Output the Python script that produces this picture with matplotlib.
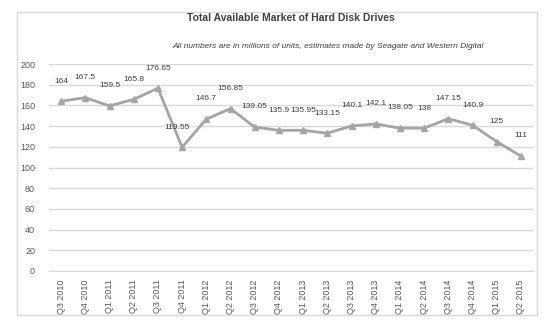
import matplotlib.pyplot as plt
from matplotlib.patches import Rectangle

plt.rcParams['font.family'] = ['Liberation Sans', 'DejaVu Sans']

# quarters and total available market (millions of units)
quarters = ['Q3 2010', 'Q4 2010', 'Q1 2011', 'Q2 2011', 'Q3 2011', 'Q4 2011',
            'Q1 2012', 'Q2 2012', 'Q3 2012', 'Q4 2012', 'Q1 2013', 'Q2 2013',
            'Q3 2013', 'Q4 2013', 'Q1 2014', 'Q2 2014', 'Q3 2014', 'Q4 2014',
            'Q1 2015', 'Q2 2015']
units = [164, 167.5, 159.5, 165.8, 176.65, 119.55, 146.7, 156.85, 139.05, 135.9,
         135.95, 133.15, 140.1, 142.1, 138.05, 138, 147.15, 140.9, 125, 111]
labels = ['164', '167.5', '159.5', '165.8', '176.65', '119.55', '146.7', '156.85',
          '139.05', '135.9', '135.95', '133.15', '140.1', '142.1', '138.05', '138',
          '147.15', '140.9', '125', '111']

fig = plt.figure(figsize=(5.5, 3.27), dpi=100)
ax = fig.add_axes([49 / 550, 1 - 271 / 327, 484 / 550, 207 / 327])

# light frame around the whole chart
fig.patches.append(Rectangle((17 / 550, 1 - 315 / 327), 520 / 550, 303 / 327,
                             transform=fig.transFigure, fill=False,
                             edgecolor='#d9d9d9', linewidth=1))

x = range(len(quarters))
ax.plot(x, units, color='#a5a5a5', linewidth=2, marker='^', markersize=5,
        markeredgecolor='#a5a5a5', markerfacecolor='#a5a5a5', zorder=3)

for i, (v, t) in enumerate(zip(units, labels)):
    dx = -4 if t == '119.55' else 0
    ax.annotate(t, (i, v), xytext=(dx, 12), textcoords='offset points',
                ha='center', va='bottom', fontsize=6, color='#404040')

ax.set_xlim(-0.5, len(quarters) - 0.5)
ax.set_ylim(0, 200)
ax.set_yticks(range(0, 201, 20))
ax.set_xticks(list(x))
ax.set_xticklabels(quarters, rotation=90)
ax.tick_params(axis='both', length=0, labelsize=6.5, labelcolor='#595959')
ax.tick_params(axis='x', pad=6)
ax.tick_params(axis='y', pad=10)
ax.grid(axis='y', color='#d9d9d9', linewidth=1)
ax.set_axisbelow(True)
for s in ['top', 'right', 'left']:
    ax.spines[s].set_visible(False)
ax.spines['bottom'].set_color('#d9d9d9')

fig.text(291 / 550, 1 - 18 / 327, 'Total Available Market of Hard Disk Drives',
         ha='center', va='center', fontsize=7.5, fontweight='bold', color='#404040')
fig.text(328 / 550, 1 - 46 / 327,
         'All numbers are in millions of units, estimates made by Seagate and Western Digital',
         ha='center', va='center', fontsize=6, style='italic', color='#404040')

fig.savefig('out.png', dpi=100)
